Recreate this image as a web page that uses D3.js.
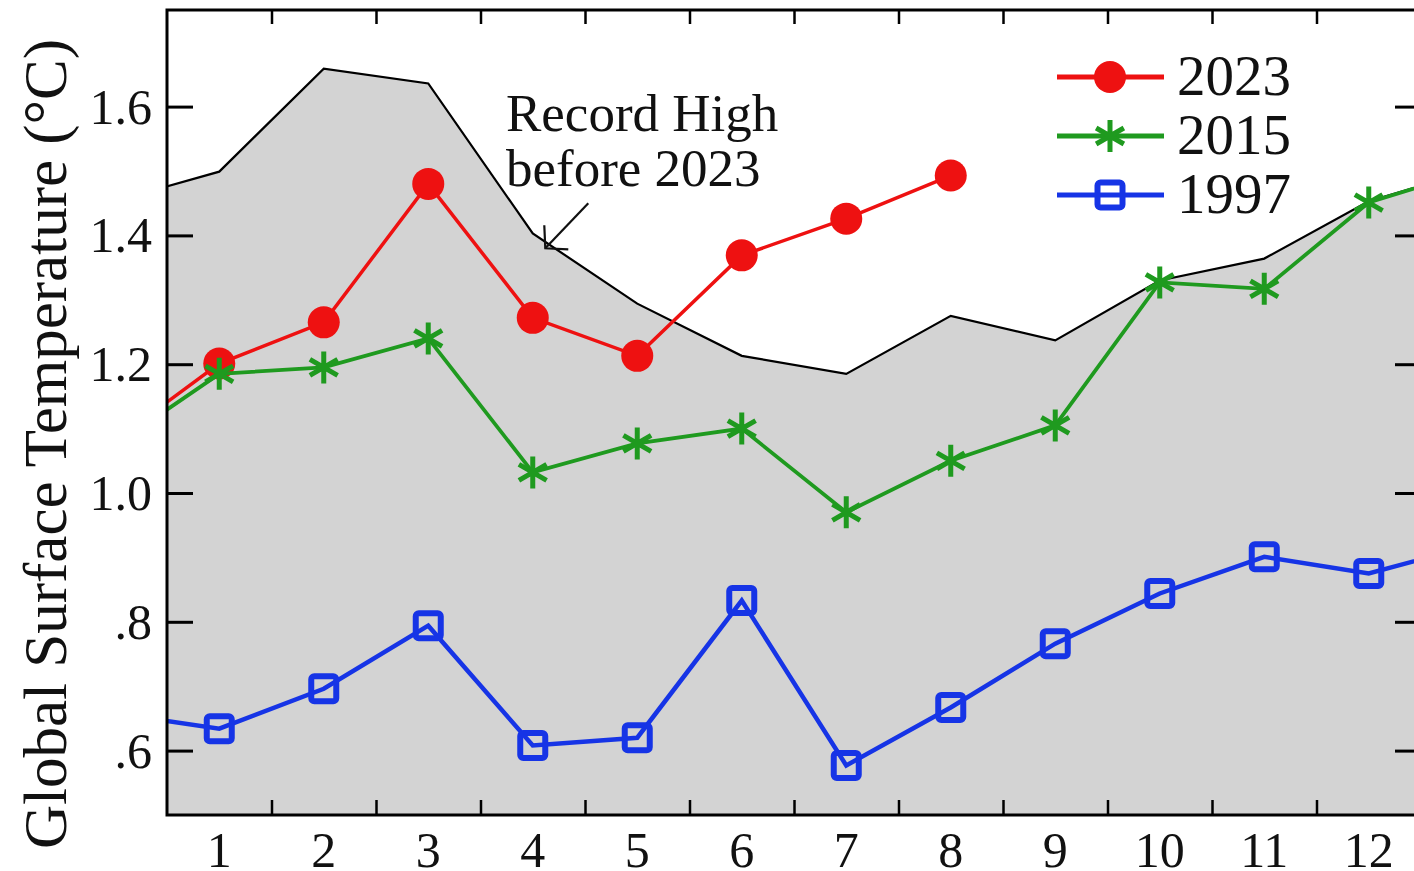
<!DOCTYPE html>
<html>
<head>
<meta charset="utf-8">
<script src="https://cdn.jsdelivr.net/npm/d3@7/dist/d3.min.js"></script>
<style>
  html, body { margin: 0; padding: 0; background: #ffffff; }
  svg { display: block; }
  text { font-family: "Liberation Serif", "Times New Roman", serif; fill: #111; }
</style>
</head>
<body>
<svg id="chart" width="1414" height="871"></svg>
<script>
// ---- data (month 0 = previous December, month 13 = following January; clipped by the frame) ----
const months      = [0, 1, 2, 3, 4, 5, 6, 7, 8, 9, 10, 11, 12, 13];
const recordHigh  = [1.453, 1.499, 1.659, 1.636, 1.403, 1.294, 1.213, 1.185, 1.275, 1.237, 1.330, 1.364, 1.453, 1.501];
const months2023  = [0, 1, 2, 3, 4, 5, 6, 7, 8];
const values2023  = [1.081, 1.201, 1.265, 1.480, 1.272, 1.213, 1.369, 1.426, 1.493];
const values2015  = [1.074, 1.185, 1.195, 1.240, 1.032, 1.077, 1.100, 0.970, 1.050, 1.105, 1.327, 1.317, 1.451, 1.501];
const values1997  = [0.658, 0.634, 0.696, 0.794, 0.608, 0.620, 0.833, 0.577, 0.667, 0.766, 0.844, 0.901, 0.875, 0.919];
const xTickLabels = [1, 2, 3, 4, 5, 6, 7, 8, 9, 10, 11, 12];
const yTickValues = [0.6, 0.8, 1.0, 1.2, 1.4, 1.6];
const seriesNames = ["2023", "2015", "1997"];
const yTitle = "Global Surface Temperature (\u00B0C)";
const noteLines = ["Record High", "before 2023"];

const svg = d3.select("#chart");
const pLeft = 167, pRight = 1421, pTop = 10, pBottom = 815;

const x = d3.scaleLinear().domain([0.5, 12.5]).range([pLeft, pRight]);
const y = d3.scaleLinear().domain([0.5, 1.75]).range([pBottom, pTop]);

const RED = "#ee1111", GREEN = "#1f9a1f", BLUE = "#1634e6", GREY = "#d3d3d3";

svg.append("defs").append("clipPath").attr("id", "plotclip")
  .append("rect").attr("x", pLeft).attr("y", pTop).attr("width", pRight - pLeft).attr("height", pBottom - pTop);

const plot = svg.append("g").attr("clip-path", "url(#plotclip)");

// record-high shaded area
const rec = months.map((m, i) => ({ m, v: recordHigh[i] }));
plot.append("path").datum(rec)
  .attr("d", d3.area().x(d => x(d.m)).y0(pBottom).y1(d => y(d.v)))
  .attr("fill", GREY);
plot.append("path").datum(rec)
  .attr("d", d3.line().x(d => x(d.m)).y(d => y(d.v)))
  .attr("fill", "none").attr("stroke", "#000").attr("stroke-width", 2.2);

const line = d3.line().x(d => x(d.m)).y(d => y(d.v));

function starPath(r) {
  const a = Math.PI / 6;
  const dx = r * Math.cos(a), dy = r * Math.sin(a);
  return `M0,${-r}L0,${r}M${-dx},${-dy}L${dx},${dy}M${-dx},${dy}L${dx},${-dy}`;
}

function drawMarker(g, type, color) {
  if (type === "circle") {
    g.append("circle").attr("r", 16).attr("fill", color);
  } else if (type === "star") {
    g.append("path").attr("d", starPath(16)).attr("stroke", color)
      .attr("stroke-width", 5).attr("fill", "none").attr("stroke-linecap", "butt");
  } else {
    g.append("rect").attr("x", -12.5).attr("y", -12.5).attr("width", 25).attr("height", 25)
      .attr("rx", 3).attr("fill", "none").attr("stroke", color).attr("stroke-width", 6);
  }
}

const series = [
  { name: seriesNames[0], ms: months2023, vs: values2023, color: RED,   width: 3.5, type: "circle" },
  { name: seriesNames[1], ms: months,     vs: values2015, color: GREEN, width: 3.8, type: "star" },
  { name: seriesNames[2], ms: months,     vs: values1997, color: BLUE,  width: 4.5, type: "square" }
];

series.forEach(s => {
  const pts = s.ms.map((m, i) => ({ m, v: s.vs[i] }));
  plot.append("path").datum(pts).attr("d", line)
    .attr("fill", "none").attr("stroke", s.color).attr("stroke-width", s.width);
  plot.selectAll(null).data(pts).enter().append("g")
    .attr("transform", d => `translate(${x(d.m)},${y(d.v)})`)
    .each(function () { drawMarker(d3.select(this), s.type, s.color); });
});

// ---- axes / frame ----
const axisG = svg.append("g");
axisG.append("rect").attr("x", pLeft).attr("y", pTop).attr("width", pRight - pLeft).attr("height", pBottom - pTop)
  .attr("fill", "none").attr("stroke", "#000").attr("stroke-width", 3);

const halfTicks = d3.range(1.5, 12.5, 1);
axisG.append("g").attr("transform", `translate(0,${pBottom})`)
  .call(d3.axisBottom(x).tickValues(halfTicks).tickSize(-15).tickFormat(""))
  .call(g => g.select(".domain").remove())
  .call(g => g.selectAll("line").attr("stroke", "#000").attr("stroke-width", 2.5));
axisG.append("g").attr("transform", `translate(0,${pTop})`)
  .call(d3.axisTop(x).tickValues(halfTicks).tickSize(-14).tickFormat(""))
  .call(g => g.select(".domain").remove())
  .call(g => g.selectAll("line").attr("stroke", "#000").attr("stroke-width", 2.5));

// x labels
axisG.append("g").selectAll("text").data(xTickLabels).enter().append("text")
  .attr("x", d => x(d)).attr("y", 867).attr("text-anchor", "middle")
  .attr("font-size", 50).text(d => d);

const fmt = v => (v < 1 ? d3.format(".1f")(v).replace(/^0/, "") : d3.format(".1f")(v));
axisG.append("g").attr("transform", `translate(${pLeft},0)`)
  .call(d3.axisLeft(y).tickValues(yTickValues).tickSize(-26).tickFormat(""))
  .call(g => g.select(".domain").remove())
  .call(g => g.selectAll("line").attr("stroke", "#000").attr("stroke-width", 3));
axisG.append("g").attr("transform", `translate(${pRight},0)`)
  .call(d3.axisRight(y).tickValues(yTickValues).tickSize(-26).tickFormat(""))
  .call(g => g.select(".domain").remove())
  .call(g => g.selectAll("line").attr("stroke", "#000").attr("stroke-width", 3));

axisG.append("g").selectAll("text").data(yTickValues).enter().append("text")
  .attr("x", 152).attr("y", d => y(d) + 17).attr("text-anchor", "end")
  .attr("font-size", 50).text(fmt);

// y title
svg.append("text")
  .attr("transform", "translate(66,444) rotate(-90)")
  .attr("text-anchor", "middle").attr("font-size", 61).text(yTitle);

// annotation
svg.append("g").selectAll("text").data(noteLines).enter().append("text")
  .attr("x", 506).attr("y", (d, i) => 131 + i * 55)
  .attr("font-size", 53).text(d => d);
const tipX = x(4.12), tipY = y(1.38);
const arrow = svg.append("g").attr("stroke", "#111").attr("stroke-width", 2.2).attr("fill", "none");
arrow.append("line").attr("x1", tipX + 43).attr("y1", tipY - 45).attr("x2", tipX).attr("y2", tipY);
arrow.append("path").attr("d", `M${tipX - 1},${tipY - 23}L${tipX},${tipY}L${tipX + 23},${tipY + 1}`);

// legend
const legend = svg.append("g");
series.forEach((s, i) => {
  const ly = 77 + i * 59;
  legend.append("line").attr("x1", 1057).attr("x2", 1164).attr("y1", ly).attr("y2", ly)
    .attr("stroke", s.color).attr("stroke-width", 5);
  drawMarker(legend.append("g").attr("transform", `translate(1110,${ly})`), s.type, s.color);
  legend.append("text").attr("x", 1177).attr("y", ly + 18).attr("font-size", 57).text(s.name);
});
</script>
</body>
</html>
